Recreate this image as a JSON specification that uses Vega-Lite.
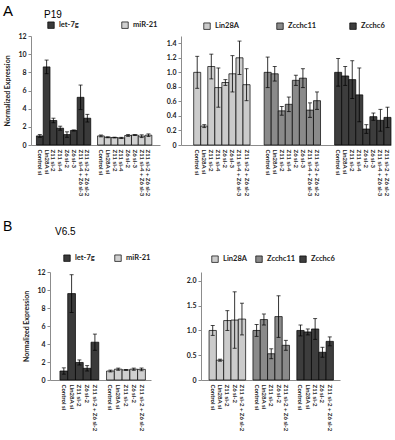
{
  "$schema": "https://vega.github.io/schema/vega-lite/v6.json",
  "background": "white",
  "padding": {"left": 3, "top": 4, "right": 0, "bottom": 0},
  "config": {
    "view": {"stroke": null},
    "font": "Lato",
    "axis": {
      "domainColor": "#8c8c8c", "tickColor": "#8c8c8c", "grid": false,
      "labelFont": "Lato", "labelFontWeight": "bold", "labelColor": "#222222",
      "titleFont": "Lato", "titleFontWeight": "bold", "titleColor": "#222222"
    },
    "axisY": {"labelFontSize": 7, "tickSize": 3, "labelPadding": 2, "titleFontSize": 7, "titlePadding": 7},
    "axisX": {"labelFontSize": 6, "labelAngle": 90, "ticks": false, "labelPadding": 4, "title": null},
    "legend": {
      "orient": "none", "direction": "horizontal", "symbolType": "square", "symbolSize": 42,
      "symbolStrokeColor": "black", "symbolStrokeWidth": 0.7, "symbolOpacity": 1,
      "labelFont": "Lato", "labelFontWeight": "bold", "labelFontSize": 7.5, "labelColor": "#222222",
      "titleFont": "Liberation Sans", "titleFontWeight": "normal", "titleFontSize": 10, "titleColor": "black",
      "gridAlign": "all", "padding": 0, "labelOffset": 4
    },
    "title": {"font": "Liberation Sans", "fontWeight": "normal", "fontSize": 15, "color": "black", "anchor": "start", "frame": "group"},
    "errorbar": {"ticks": {"size": 4, "color": "black", "strokeWidth": 0.8}, "rule": {"color": "black", "strokeWidth": 0.8}}
  },
  "datasets": {
    "p19_mirna": [
      {"g": "let-7g", "k": "let-7g|Control si", "v": 1.0, "e": 0.15},
      {"g": "let-7g", "k": "let-7g|Lin28A si", "v": 8.6, "e": 0.75},
      {"g": "let-7g", "k": "let-7g|Z11 si-2", "v": 2.7, "e": 0.25},
      {"g": "let-7g", "k": "let-7g|Z11 si-4", "v": 1.85, "e": 0.22},
      {"g": "let-7g", "k": "let-7g|Z6 si-2", "v": 1.15, "e": 0.3},
      {"g": "let-7g", "k": "let-7g|Z6 si-3", "v": 1.6, "e": 0.06},
      {"g": "let-7g", "k": "let-7g|Z11 si-4 + Z6 si-3", "v": 5.25, "e": 1.35},
      {"g": "let-7g", "k": "let-7g|Z11 si-2 + Z6 si-2", "v": 2.95, "e": 0.42},
      {"g": "miR-21", "k": "miR-21|Control si", "v": 1.0, "e": 0.1},
      {"g": "miR-21", "k": "miR-21|Lin28A si", "v": 0.85, "e": 0.05},
      {"g": "miR-21", "k": "miR-21|Z11 si-2", "v": 0.82, "e": 0.04},
      {"g": "miR-21", "k": "miR-21|Z11 si-4", "v": 0.78, "e": 0.06},
      {"g": "miR-21", "k": "miR-21|Z6 si-2", "v": 1.05, "e": 0.1},
      {"g": "miR-21", "k": "miR-21|Z6 si-3", "v": 1.1, "e": 0.05},
      {"g": "miR-21", "k": "miR-21|Z11 si-4 + Z6 si-3", "v": 0.97, "e": 0.15},
      {"g": "miR-21", "k": "miR-21|Z11 si-2 + Z6 si-2", "v": 1.08, "e": 0.14}
    ],
    "p19_protein": [
      {"g": "Lin28A", "k": "Lin28A|Control si", "v": 1.0, "e": 0.22},
      {"g": "Lin28A", "k": "Lin28A|Lin28A si", "v": 0.26, "e": 0.02},
      {"g": "Lin28A", "k": "Lin28A|Z11 si-2", "v": 1.08, "e": 0.17},
      {"g": "Lin28A", "k": "Lin28A|Z11 si-4", "v": 0.79, "e": 0.27},
      {"g": "Lin28A", "k": "Lin28A|Z6 si-2", "v": 0.86, "e": 0.04},
      {"g": "Lin28A", "k": "Lin28A|Z6 si-3", "v": 0.98, "e": 0.25},
      {"g": "Lin28A", "k": "Lin28A|Z11 si-4 + Z6 si-3", "v": 1.2, "e": 0.23},
      {"g": "Lin28A", "k": "Lin28A|Z11 si-2 + Z6 si-2", "v": 0.83, "e": 0.22},
      {"g": "Zcchc11", "k": "Zcchc11|Control si", "v": 1.0, "e": 0.21},
      {"g": "Zcchc11", "k": "Zcchc11|Lin28A si", "v": 0.98, "e": 0.1},
      {"g": "Zcchc11", "k": "Zcchc11|Z11 si-2", "v": 0.47, "e": 0.06},
      {"g": "Zcchc11", "k": "Zcchc11|Z11 si-4", "v": 0.56, "e": 0.1},
      {"g": "Zcchc11", "k": "Zcchc11|Z6 si-2", "v": 0.89, "e": 0.07},
      {"g": "Zcchc11", "k": "Zcchc11|Z6 si-3", "v": 0.92, "e": 0.13},
      {"g": "Zcchc11", "k": "Zcchc11|Z11 si-4 + Z6 si-3", "v": 0.48, "e": 0.1},
      {"g": "Zcchc11", "k": "Zcchc11|Z11 si-2 + Z6 si-2", "v": 0.61, "e": 0.12},
      {"g": "Zcchc6", "k": "Zcchc6|Control si", "v": 1.0, "e": 0.19},
      {"g": "Zcchc6", "k": "Zcchc6|Lin28A si", "v": 0.95, "e": 0.13},
      {"g": "Zcchc6", "k": "Zcchc6|Z11 si-2", "v": 0.9, "e": 0.26},
      {"g": "Zcchc6", "k": "Zcchc6|Z11 si-4", "v": 0.69, "e": 0.37},
      {"g": "Zcchc6", "k": "Zcchc6|Z6 si-2", "v": 0.22, "e": 0.06},
      {"g": "Zcchc6", "k": "Zcchc6|Z6 si-3", "v": 0.39, "e": 0.05},
      {"g": "Zcchc6", "k": "Zcchc6|Z11 si-4 + Z6 si-3", "v": 0.34, "e": 0.15},
      {"g": "Zcchc6", "k": "Zcchc6|Z11 si-2 + Z6 si-2", "v": 0.38, "e": 0.14}
    ],
    "v65_mirna": [
      {"g": "let-7g", "k": "let-7g|Control si", "v": 1.0, "e": 0.35},
      {"g": "let-7g", "k": "let-7g|Lin28A si", "v": 9.6, "e": 2.1},
      {"g": "let-7g", "k": "let-7g|Z11 si-2", "v": 1.95, "e": 0.28},
      {"g": "let-7g", "k": "let-7g|Z6 si-2", "v": 1.3, "e": 0.3},
      {"g": "let-7g", "k": "let-7g|Z11 si-2 + Z6 si-2", "v": 4.2, "e": 0.9},
      {"g": "miR-21", "k": "miR-21|Control si", "v": 1.0, "e": 0.1},
      {"g": "miR-21", "k": "miR-21|Lin28A si", "v": 1.2, "e": 0.12},
      {"g": "miR-21", "k": "miR-21|Z11 si-2", "v": 1.12, "e": 0.05},
      {"g": "miR-21", "k": "miR-21|Z6 si-2", "v": 1.2, "e": 0.12},
      {"g": "miR-21", "k": "miR-21|Z11 si-2 + Z6 si-2", "v": 1.18, "e": 0.15}
    ],
    "v65_protein": [
      {"g": "Lin28A", "k": "Lin28A|Control si", "v": 1.0, "e": 0.1},
      {"g": "Lin28A", "k": "Lin28A|Lin28A si", "v": 0.4, "e": 0.02},
      {"g": "Lin28A", "k": "Lin28A|Z11 si-2", "v": 1.2, "e": 0.2},
      {"g": "Lin28A", "k": "Lin28A|Z6 si-2", "v": 1.21, "e": 0.57},
      {"g": "Lin28A", "k": "Lin28A|Z11 si-2 + Z6 si-2", "v": 1.23, "e": 0.32},
      {"g": "Zcchc11", "k": "Zcchc11|Control si", "v": 1.0, "e": 0.12},
      {"g": "Zcchc11", "k": "Zcchc11|Lin28A si", "v": 1.22, "e": 0.11},
      {"g": "Zcchc11", "k": "Zcchc11|Z11 si-2", "v": 0.53, "e": 0.1},
      {"g": "Zcchc11", "k": "Zcchc11|Z6 si-2", "v": 1.28, "e": 0.42},
      {"g": "Zcchc11", "k": "Zcchc11|Z11 si-2 + Z6 si-2", "v": 0.7, "e": 0.1},
      {"g": "Zcchc6", "k": "Zcchc6|Control si", "v": 1.0, "e": 0.11},
      {"g": "Zcchc6", "k": "Zcchc6|Lin28A si", "v": 0.97, "e": 0.06},
      {"g": "Zcchc6", "k": "Zcchc6|Z11 si-2", "v": 1.03, "e": 0.21},
      {"g": "Zcchc6", "k": "Zcchc6|Z6 si-2", "v": 0.56, "e": 0.1},
      {"g": "Zcchc6", "k": "Zcchc6|Z11 si-2 + Z6 si-2", "v": 0.78, "e": 0.09}
    ]
  },
  "columns": 1,
  "spacing": 24,
  "resolve": {"scale": {"color": "independent"}, "legend": {"color": "independent"}},
  "concat": [
    {
      "hconcat": [
        {
          "width": 129, "height": 109,
          "data": {"name": "p19_mirna"},
          "title": {"text": "A", "offset": -9, "dx": -28},
          "encoding": {
            "x": {
              "field": "k", "type": "nominal",
              "scale": {
                "domain": ["let-7g|Control si", "let-7g|Lin28A si", "let-7g|Z11 si-2", "let-7g|Z11 si-4", "let-7g|Z6 si-2", "let-7g|Z6 si-3", "let-7g|Z11 si-4 + Z6 si-3", "let-7g|Z11 si-2 + Z6 si-2", "~1",
                           "miR-21|Control si", "miR-21|Lin28A si", "miR-21|Z11 si-2", "miR-21|Z11 si-4", "miR-21|Z6 si-2", "miR-21|Z6 si-3", "miR-21|Z11 si-4 + Z6 si-3", "miR-21|Z11 si-2 + Z6 si-2"],
                "paddingInner": 0, "paddingOuter": 1.3, "align": 0.4
              },
              "axis": {"labelExpr": "indexof(datum.value, '|') < 0 ? '' : split(datum.value, '|')[1]"}
            },
            "y": {
              "field": "v", "type": "quantitative",
              "scale": {"domain": [0, 12]},
              "axis": {"title": "Normalized Expression", "values": [0, 2, 4, 6, 8, 10, 12]}
            }
          },
          "layer": [
            {
              "mark": {"type": "bar", "stroke": "black", "strokeWidth": 0.7},
              "encoding": {
                "color": {
                  "field": "g", "type": "nominal",
                  "scale": {"domain": ["let-7g", "miR-21"], "range": ["#3a3a3a", "#d0d0d0"]},
                  "legend": {"title": "P19", "legendX": 13, "legendY": -26, "symbolOffset": 3, "titlePadding": 1, "columnPadding": 34}
                }
              }
            },
            {"mark": {"type": "errorbar", "ticks": true}, "encoding": {"yError": {"field": "e"}}}
          ]
        },
        {
          "width": 210, "height": 109,
          "data": {"name": "p19_protein"},
          "encoding": {
            "x": {
              "field": "k", "type": "nominal",
              "scale": {
                "domain": ["Lin28A|Control si", "Lin28A|Lin28A si", "Lin28A|Z11 si-2", "Lin28A|Z11 si-4", "Lin28A|Z6 si-2", "Lin28A|Z6 si-3", "Lin28A|Z11 si-4 + Z6 si-3", "Lin28A|Z11 si-2 + Z6 si-2", "~1", "~2",
                           "Zcchc11|Control si", "Zcchc11|Lin28A si", "Zcchc11|Z11 si-2", "Zcchc11|Z11 si-4", "Zcchc11|Z6 si-2", "Zcchc11|Z6 si-3", "Zcchc11|Z11 si-4 + Z6 si-3", "Zcchc11|Z11 si-2 + Z6 si-2", "~3", "~4",
                           "Zcchc6|Control si", "Zcchc6|Lin28A si", "Zcchc6|Z11 si-2", "Zcchc6|Z11 si-4", "Zcchc6|Z6 si-2", "Zcchc6|Z6 si-3", "Zcchc6|Z11 si-4 + Z6 si-3", "Zcchc6|Z11 si-2 + Z6 si-2"],
                "paddingInner": 0, "paddingOuter": 0.9, "align": 1
              },
              "axis": {"labelExpr": "indexof(datum.value, '|') < 0 ? '' : split(datum.value, '|')[1]"}
            },
            "y": {
              "field": "v", "type": "quantitative",
              "scale": {"domain": [0, 1.5]},
              "axis": {"title": null, "values": [0, 0.2, 0.4, 0.6, 0.8, 1.0, 1.2, 1.4], "labelExpr": "datum.value === 0 ? '0' : format(datum.value, '.1f')"}
            }
          },
          "layer": [
            {
              "mark": {"type": "bar", "stroke": "black", "strokeWidth": 0.7},
              "encoding": {
                "color": {
                  "field": "g", "type": "nominal",
                  "scale": {"domain": ["Lin28A", "Zcchc11", "Zcchc6"], "range": ["#cbcbcb", "#8a8a8a", "#3d3d3d"]},
                  "legend": {"title": null, "legendX": 22, "legendY": -14, "columnPadding": 31}
                }
              }
            },
            {"mark": {"type": "errorbar", "ticks": true}, "encoding": {"yError": {"field": "e"}}}
          ]
        }
      ],
      "spacing": 21,
      "bounds": "flush",
      "resolve": {"scale": {"color": "independent"}, "legend": {"color": "independent"}}
    },
    {
      "hconcat": [
        {
          "width": 120, "height": 108,
          "data": {"name": "v65_mirna"},
          "title": {"text": "B", "offset": -7, "dx": -28, "fontSize": 14},
          "encoding": {
            "x": {
              "field": "k", "type": "nominal",
              "scale": {
                "domain": ["let-7g|Control si", "let-7g|Lin28A si", "let-7g|Z11 si-2", "let-7g|Z6 si-2", "let-7g|Z11 si-2 + Z6 si-2", "~1",
                           "miR-21|Control si", "miR-21|Lin28A si", "miR-21|Z11 si-2", "miR-21|Z6 si-2", "miR-21|Z11 si-2 + Z6 si-2"],
                "range": [19, 120],
                "paddingInner": 0, "paddingOuter": 1, "align": 0.64
              },
              "axis": {"labelExpr": "indexof(datum.value, '|') < 0 ? '' : split(datum.value, '|')[1]"}
            },
            "y": {
              "field": "v", "type": "quantitative",
              "scale": {"domain": [0, 12]},
              "axis": {"title": "Normalized Expression", "values": [0, 2, 4, 6, 8, 10, 12], "offset": -19}
            }
          },
          "layer": [
            {
              "mark": {"type": "bar", "stroke": "black", "strokeWidth": 0.7},
              "encoding": {
                "color": {
                  "field": "g", "type": "nominal",
                  "scale": {"domain": ["let-7g", "miR-21"], "range": ["#3a3a3a", "#d0d0d0"]},
                  "legend": {"title": "V6.5", "legendX": 24, "legendY": -45, "symbolOffset": 8, "titlePadding": 17, "columnPadding": 6}
                }
              }
            },
            {"mark": {"type": "errorbar", "ticks": true}, "encoding": {"yError": {"field": "e"}}}
          ]
        },
        {
          "width": 139, "height": 108,
          "data": {"name": "v65_protein"},
          "encoding": {
            "x": {
              "field": "k", "type": "nominal",
              "scale": {
                "domain": ["Lin28A|Control si", "Lin28A|Lin28A si", "Lin28A|Z11 si-2", "Lin28A|Z6 si-2", "Lin28A|Z11 si-2 + Z6 si-2", "~1",
                           "Zcchc11|Control si", "Zcchc11|Lin28A si", "Zcchc11|Z11 si-2", "Zcchc11|Z6 si-2", "Zcchc11|Z11 si-2 + Z6 si-2", "~2",
                           "Zcchc6|Control si", "Zcchc6|Lin28A si", "Zcchc6|Z11 si-2", "Zcchc6|Z6 si-2", "Zcchc6|Z11 si-2 + Z6 si-2"],
                "paddingInner": 0, "paddingOuter": 1.27, "align": 0.55
              },
              "axis": {"labelExpr": "indexof(datum.value, '|') < 0 ? '' : split(datum.value, '|')[1]"}
            },
            "y": {
              "field": "v", "type": "quantitative",
              "scale": {"domain": [0, 2.18]},
              "axis": {"title": null, "values": [0, 0.5, 1.0, 1.5, 2.0], "labelExpr": "datum.value === 0 ? '0' : format(datum.value, '.1f')"}
            }
          },
          "layer": [
            {
              "mark": {"type": "bar", "stroke": "black", "strokeWidth": 0.7},
              "encoding": {
                "color": {
                  "field": "g", "type": "nominal",
                  "scale": {"domain": ["Lin28A", "Zcchc11", "Zcchc6"], "range": ["#cbcbcb", "#8a8a8a", "#3d3d3d"]},
                  "legend": {"title": null, "legendX": 10, "legendY": -17, "columnPadding": 2}
                }
              }
            },
            {"mark": {"type": "errorbar", "ticks": true}, "encoding": {"yError": {"field": "e"}}}
          ]
        }
      ],
      "spacing": 50,
      "bounds": "flush",
      "resolve": {"scale": {"color": "independent"}, "legend": {"color": "independent"}}
    }
  ]
}
